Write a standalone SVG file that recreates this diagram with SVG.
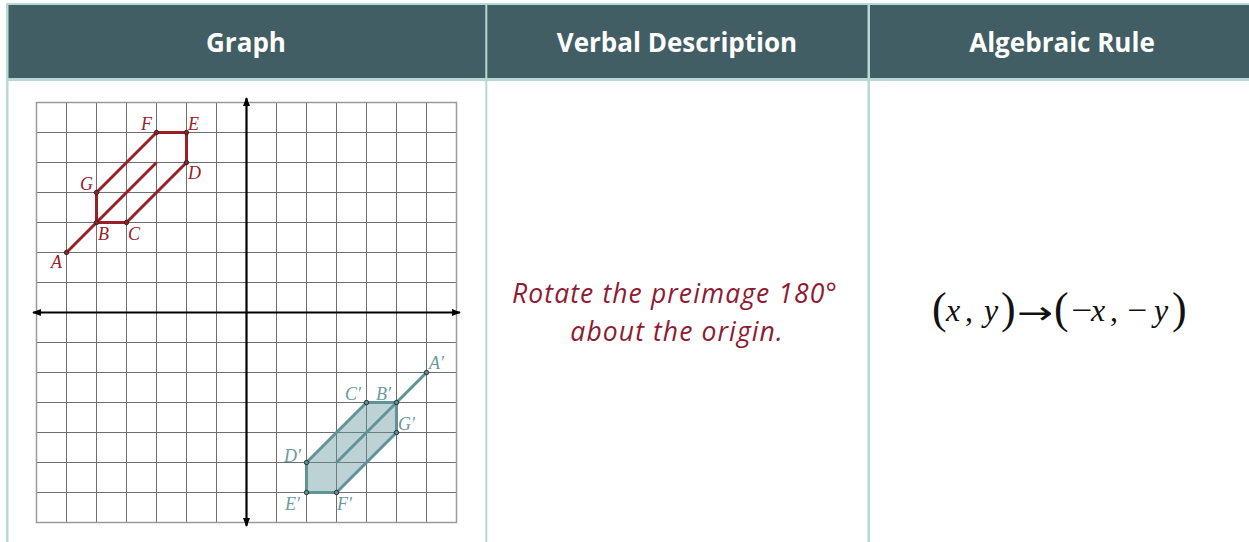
<svg xmlns="http://www.w3.org/2000/svg" width="1249" height="542" viewBox="0 0 1249 542">
<style>
.hdr{font-family:"Open Sans","Liberation Sans",sans-serif;font-weight:bold;font-size:26px;fill:#ffffff;text-anchor:middle}
.desc{font-family:"Open Sans","Liberation Sans",sans-serif;font-style:italic;font-size:26.5px;letter-spacing:1.1px;fill:#8e1b33;text-anchor:middle}
.m{font-family:"Liberation Serif","Times New Roman",serif;font-size:32px;fill:#111}
.mi{font-style:italic}
.par{font-size:44px}
.arw{font-family:"DejaVu Sans",sans-serif;font-size:32px;fill:#111}
.lr{font-family:"Liberation Serif","Times New Roman",serif;font-style:italic;font-size:18px;fill:#9a2029}
.lt{font-family:"Liberation Serif","Times New Roman",serif;font-style:italic;font-size:18px;fill:#6b9aa0}
.grid{stroke:#6e6e6e;stroke-width:1;fill:none}
.red{stroke:#9a1f27;stroke-width:3;fill:none;stroke-linejoin:round}
.teal{stroke:#5f9398;stroke-width:3;fill:none;stroke-linejoin:round}
.pt{stroke:#222;stroke-width:0.9}
.border{fill:#b8d8d4}
</style>
<defs>
<marker id="arr" viewBox="0 0 10 10" refX="9" refY="5" markerWidth="4" markerHeight="4" orient="auto" markerUnits="strokeWidth">
<path d="M0,1 L10,5 L0,9 z" fill="#000"/>
</marker>
</defs>

<g id="table">
<rect x="8" y="5" width="1241" height="73" fill="#415e64"/>
<rect class="border" x="6" y="3" width="1243" height="2"/>
<rect class="border" x="6" y="78" width="1243" height="3"/>
<rect class="border" x="6" y="3" width="2.5" height="539"/>
<rect class="border" x="485.3" y="5" width="2" height="537"/>
<rect class="border" x="867.5" y="5" width="2.5" height="537"/>
</g>

<g id="header-graph"><text class="hdr" x="246" y="52">Graph</text></g>
<g id="header-verbal"><text class="hdr" x="677" y="52">Verbal Description</text></g>
<g id="header-rule"><text class="hdr" x="1062" y="52">Algebraic Rule</text></g>

<g id="graph">
<path class="grid" d="M36.5,102.5V522.5M66.5,102.5V522.5M96.5,102.5V522.5M126.5,102.5V522.5M156.5,102.5V522.5M186.5,102.5V522.5M216.5,102.5V522.5M276.5,102.5V522.5M306.5,102.5V522.5M336.5,102.5V522.5M366.5,102.5V522.5M396.5,102.5V522.5M426.5,102.5V522.5M456.5,102.5V522.5M36.5,102.5H456.5M36.5,132.5H456.5M36.5,162.5H456.5M36.5,192.5H456.5M36.5,222.5H456.5M36.5,252.5H456.5M36.5,282.5H456.5M36.5,342.5H456.5M36.5,372.5H456.5M36.5,402.5H456.5M36.5,432.5H456.5M36.5,462.5H456.5M36.5,492.5H456.5M36.5,522.5H456.5"/>
<rect x="36.5" y="102.5" width="420" height="420" fill="none" stroke="#9a9a9a" stroke-width="1.5"/>
<g id="axes" stroke="#000" stroke-width="2.2">
<line x1="246.5" y1="312.5" x2="33" y2="312.5" marker-end="url(#arr)"/>
<line x1="246.5" y1="312.5" x2="460" y2="312.5" marker-end="url(#arr)"/>
<line x1="246.5" y1="312.5" x2="246.5" y2="98" marker-end="url(#arr)"/>
<line x1="246.5" y1="312.5" x2="246.5" y2="526" marker-end="url(#arr)"/>
</g>

<g id="preimage">
<polygon class="red" points="96.5,192.5 156.5,132.5 186.5,132.5 186.5,162.5 126.5,222.5 96.5,222.5"/>
<line class="red" x1="66.5" y1="252.5" x2="156.5" y2="162.5"/>
<g class="pt" fill="#9a1f27">
<circle cx="66.5" cy="252.5" r="2.2"/>
<circle cx="96.5" cy="222.5" r="2.2"/>
<circle cx="126.5" cy="222.5" r="2.2"/>
<circle cx="186.5" cy="162.5" r="2.2"/>
<circle cx="186.5" cy="132.5" r="2.2"/>
<circle cx="156.5" cy="132.5" r="2.2"/>
<circle cx="96.5" cy="192.5" r="2.2"/>
</g>
<text class="lr" x="51" y="268">A</text>
<text class="lr" x="98" y="240">B</text>
<text class="lr" x="128" y="240">C</text>
<text class="lr" x="188" y="179">D</text>
<text class="lr" x="188" y="130">E</text>
<text class="lr" x="141" y="130">F</text>
<text class="lr" x="80" y="190">G</text>
</g>

<g id="image">
<polygon points="396.5,432.5 336.5,492.5 306.5,492.5 306.5,462.5 366.5,402.5 396.5,402.5" fill="#5f9398" fill-opacity="0.42"/>
<polygon class="teal" points="396.5,432.5 336.5,492.5 306.5,492.5 306.5,462.5 366.5,402.5 396.5,402.5"/>
<line class="teal" x1="426.5" y1="372.5" x2="336.5" y2="462.5"/>
<g class="pt" fill="#5f9398">
<circle cx="426.5" cy="372.5" r="2.2"/>
<circle cx="396.5" cy="402.5" r="2.2"/>
<circle cx="366.5" cy="402.5" r="2.2"/>
<circle cx="306.5" cy="462.5" r="2.2"/>
<circle cx="306.5" cy="492.5" r="2.2"/>
<circle cx="336.5" cy="492.5" r="2.2"/>
<circle cx="396.5" cy="432.5" r="2.2"/>
</g>
<text class="lt" x="429" y="369">A′</text>
<text class="lt" x="376" y="400">B′</text>
<text class="lt" x="345" y="400">C′</text>
<text class="lt" x="284" y="462">D′</text>
<text class="lt" x="285" y="510">E′</text>
<text class="lt" x="337" y="510">F′</text>
<text class="lt" x="398" y="430">G′</text>
</g>
</g>

<g id="verbal">
<text class="desc" x="675" y="303">Rotate the preimage 180°</text>
<text class="desc" x="677" y="341">about the origin.</text>
</g>

<g id="rule">
<text class="m par" x="932" y="323">(</text>
<text class="m mi" x="946" y="321">x</text>
<text class="m" x="965" y="321">,</text>
<text class="m mi" x="984" y="321">y</text>
<text class="m par" x="1001" y="323">)</text>
<text class="arw" x="1017" y="324" textLength="36" lengthAdjust="spacingAndGlyphs">→</text>
<text class="m par" x="1054" y="323">(</text>
<text class="m" x="1071" y="321" textLength="21" lengthAdjust="spacingAndGlyphs">−</text>
<text class="m mi" x="1091" y="321">x</text>
<text class="m" x="1110" y="321">,</text>
<text class="m" x="1127" y="321" textLength="20" lengthAdjust="spacingAndGlyphs">−</text>
<text class="m mi" x="1154" y="321">y</text>
<text class="m par" x="1172" y="323">)</text>
</g>
</svg>
